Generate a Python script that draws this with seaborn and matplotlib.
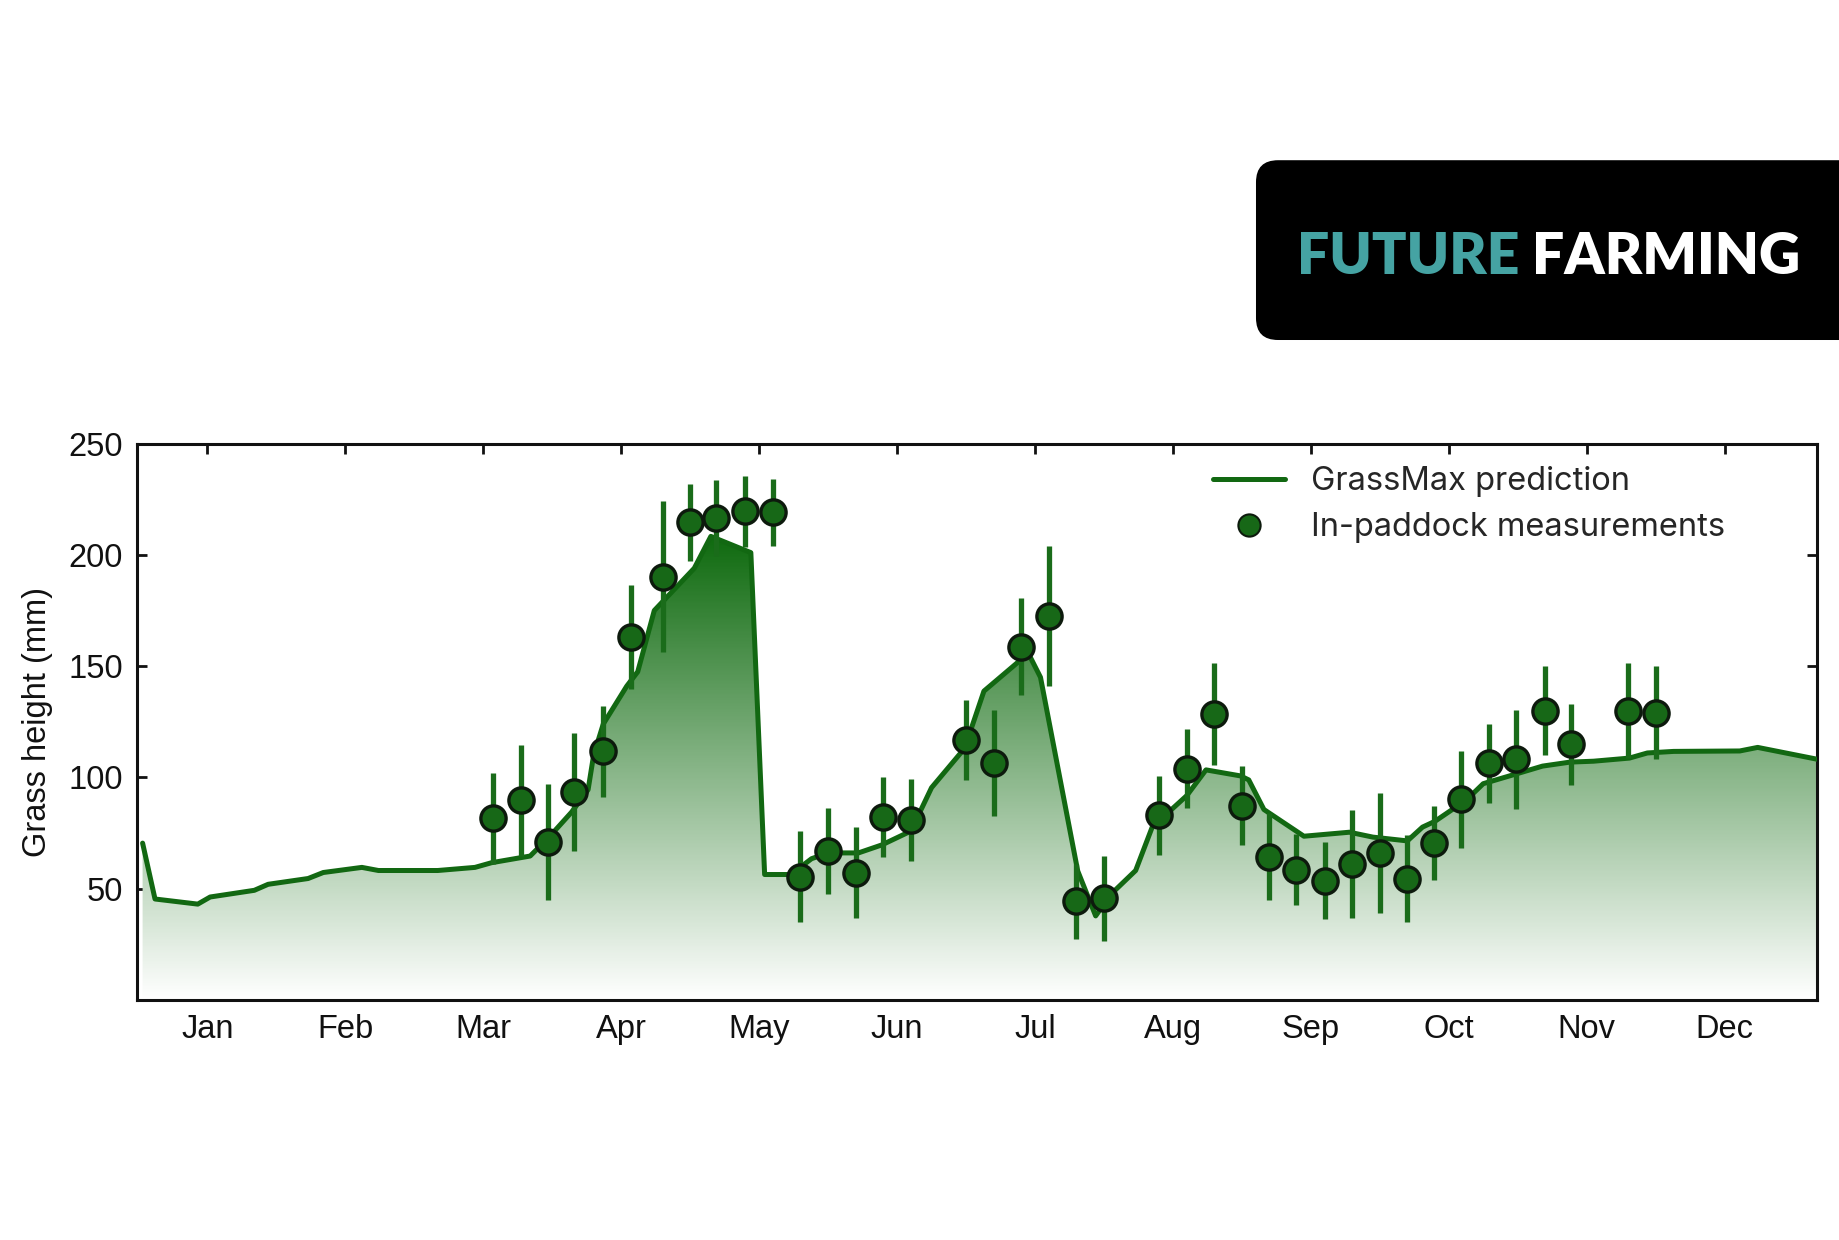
"""
GrassMax prediction vs in-paddock measurements (Future Farming graphic).
"""

import matplotlib
matplotlib.use("Agg")
import matplotlib.pyplot as plt
from matplotlib.colors import LinearSegmentedColormap
from matplotlib.lines import Line2D
from matplotlib.patches import FancyBboxPatch
import numpy as np
import pandas as pd
import seaborn as sns

# ---------- data (x in months, Jan = 0) ----------
months = ["Jan", "Feb", "Mar", "Apr", "May", "Jun",
          "Jul", "Aug", "Sep", "Oct", "Nov", "Dec"]

pred_month = [-0.47, -0.38, -0.07, 0.02, 0.34, 0.44, 0.73, 0.84, 1.12, 1.24,
              1.67, 1.94, 2.06, 2.34, 2.48, 2.64, 2.76, 2.80, 2.87, 3.04,
              3.12, 3.24, 3.53, 3.65, 3.94, 4.04, 4.23, 4.38, 4.50, 4.72,
              4.89, 5.10, 5.25, 5.49, 5.63, 5.90, 5.96, 6.04, 6.31, 6.44,
              6.55, 6.73, 6.85, 7.10, 7.24, 7.49, 7.55, 7.66, 7.95, 8.28,
              8.45, 8.70, 8.81, 8.90, 9.13, 9.25, 9.49, 9.68, 9.88, 10.05,
              10.31, 10.44, 10.63, 11.11, 11.24, 11.67]
pred_height = [70.5, 45.4, 43.1, 46.3, 49.3, 52.0, 54.6, 57.3, 59.6, 58.2,
               58.2, 59.6, 61.7, 64.7, 73.4, 84.4, 94.5, 110.0, 124.0, 141.0,
               147.5, 175.0, 194.0, 208.3, 201.0, 56.4, 56.4, 63.5, 66.1, 66.1,
               69.7, 75.9, 95.4, 113.1, 138.8, 153.0, 154.8, 145.0, 58.0, 37.8,
               47.5, 58.2, 77.7, 91.8, 103.4, 100.7, 98.9, 85.6, 73.6, 75.4,
               73.2, 71.5, 77.7, 80.3, 90.0, 97.2, 101.6, 105.1, 106.9, 107.3,
               108.7, 111.0, 111.7, 111.9, 113.5, 108.2]

meas_month = [2.07, 2.27, 2.47, 2.66, 2.87, 3.07, 3.30, 3.50, 3.69, 3.90,
              4.10, 4.30, 4.50, 4.70, 4.90, 5.10, 5.50, 5.70, 5.90, 6.10,
              6.30, 6.50, 6.90, 7.10, 7.30, 7.50, 7.70, 7.89, 8.10, 8.30,
              8.50, 8.70, 8.89, 9.09, 9.29, 9.49, 9.70, 9.89, 10.30, 10.50]
meas_height = [81.7, 89.7, 71.1, 93.6, 111.7, 163.1, 190.2, 214.7, 216.5, 219.5,
               219.1, 55.5, 67.0, 57.3, 82.1, 80.8, 117.0, 106.4, 158.7, 172.5,
               44.3, 45.7, 83.0, 103.9, 128.5, 87.4, 64.4, 58.5, 53.7, 61.2,
               66.1, 54.6, 70.6, 90.1, 106.4, 108.2, 130.0, 114.9, 130.0, 129.1]
meas_err = [20.5, 25.0, 26.0, 26.5, 20.5, 23.5, 34.0, 17.3, 17.0, 16.0,
            15.0, 20.4, 19.5, 20.4, 18.0, 18.4, 18.0, 23.7, 21.7, 31.6,
            16.8, 19.0, 17.7, 17.7, 23.0, 17.7, 19.5, 16.0, 17.5, 24.4,
            27.0, 19.5, 16.6, 22.0, 17.7, 22.3, 19.9, 18.3, 21.2, 20.8]

pred = pd.DataFrame({"month": pred_month, "height": pred_height})
meas = pd.DataFrame({"month": meas_month, "height": meas_height, "err": meas_err})

LINE_GREEN = "#126812"
DOT_GREEN = "#176817"
BAR_GREEN = "#1a6c1a"
EDGE = "#0d1a0d"
XLIM = (-0.51, 11.67)
YLIM = (0, 250)

# ---------- style ----------
sns.set_style("ticks")
plt.rcParams["font.family"] = ["Liberation Sans", "DejaVu Sans"]

fig = plt.figure(figsize=(18.4, 12.4), dpi=100)
ax = fig.add_axes([0.0745, 0.1935, 0.913, 0.4488])

# gradient fill under the prediction line
poly = ax.fill_between(pred["month"], pred["height"], 0, color="none", lw=0)
cmap = LinearSegmentedColormap.from_list("grass", ["#ffffff", "#0b680b"])
grad = np.linspace(0, 1, 400).reshape(-1, 1) * (250 / 212)
img = ax.imshow(grad, cmap=cmap, vmin=0, vmax=1, aspect="auto", origin="lower",
                extent=[XLIM[0], XLIM[1], 0, 250], zorder=1)
img.set_clip_path(poly.get_paths()[0], transform=ax.transData)

sns.lineplot(data=pred, x="month", y="height", ax=ax, color=LINE_GREEN,
             lw=3.6, zorder=3, sort=True)
ax.errorbar(meas["month"], meas["height"], yerr=meas["err"], fmt="none",
            ecolor=BAR_GREEN, elinewidth=3.8, capsize=0, zorder=4)
sns.scatterplot(data=meas, x="month", y="height", ax=ax, s=330,
                color=DOT_GREEN, edgecolor=EDGE, linewidth=2.4, zorder=5)

ax.set_xlim(*XLIM)
ax.set_ylim(*YLIM)
ax.set_xticks(range(len(months)))
ax.set_xticklabels(months)
ax.set_yticks([50, 100, 150, 200, 250])
ax.tick_params(axis="both", direction="in", length=7.5, width=2, labelsize=23.5,
               top=True, right=True, colors="#111111", pad=10)
ax.set_xlabel("")
ax.set_ylabel("Grass height (mm)", fontsize=23.5, color="#111111")
ax.yaxis.set_label_coords(-0.05, 0.5)
for sp in ax.spines.values():
    sp.set_linewidth(2.2)
    sp.set_color("#111111")

handles = [
    Line2D([0], [0], color=LINE_GREEN, lw=3.6),
    Line2D([0], [0], marker="o", ls="none", markersize=16,
           markerfacecolor=DOT_GREEN, markeredgecolor=EDGE, markeredgewidth=1.5),
]
ax.legend(handles, ["GrassMax prediction", "In-paddock measurements"],
          loc="upper left", bbox_to_anchor=(0.623, 1.012), frameon=False,
          prop={"family": "Inter", "size": 23.5}, handlelength=2.2,
          handletextpad=0.8, labelspacing=0.45)

# ---------- logo ----------
fig.patches.append(FancyBboxPatch((0.6826, 0.7258), 0.40, 0.145,
                                  boxstyle="round,pad=0,rounding_size=0.012",
                                  transform=fig.transFigure, facecolor="black",
                                  edgecolor="none", mutation_aspect=1.48))
fig.text(0.7049, 0.7928, "FUTURE", color="#45a3a3", fontsize=41,
         fontweight="heavy", family="Lato", va="center", ha="left")
fig.text(0.8325, 0.7928, "FARMING", color="white", fontsize=41,
         fontweight="heavy", family="Lato", va="center", ha="left")

fig.savefig("out.png", dpi=100, facecolor="white")
